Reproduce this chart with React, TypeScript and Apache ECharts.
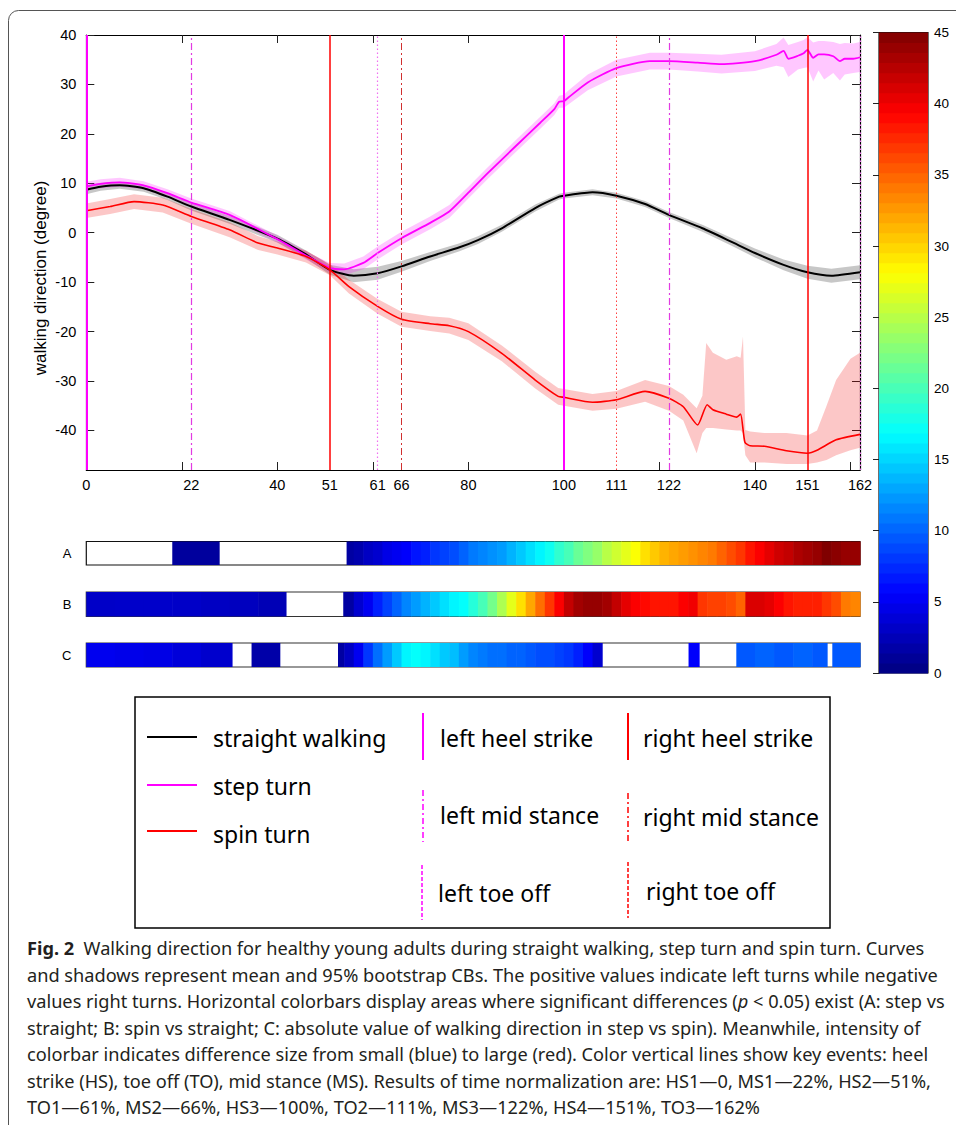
import React, { useEffect, useRef } from "react";
import * as echarts from "echarts";

// ---------- main plot data ----------
const xTickValues = [0, 20, 40, 60, 80, 100, 120, 140, 160];
const xLabelValues = [0, 22, 40, 51, 61, 66, 80, 100, 111, 122, 140, 151, 162];
const yTickValues = [-40, -30, -20, -10, 0, 10, 20, 30, 40];

const straightX = [0, 3, 7, 12, 17, 22, 30, 40, 46, 51, 56, 61, 66, 72, 78, 82, 87, 94, 99, 100, 106, 111, 117, 122, 129, 135, 140, 146, 151, 156, 162];
const straightMean = [8.7, 9.3, 9.6, 9.0, 7.3, 5.3, 2.6, -1.2, -4.4, -7.5, -8.7, -8.2, -6.8, -4.8, -3.0, -1.5, 0.9, 5.0, 7.3, 7.5, 8.2, 7.5, 5.8, 3.6, 0.9, -1.8, -4.1, -6.5, -8.0, -8.7, -8.0];
const straightLow = [7.8, 8.5, 8.9, 8.3, 6.6, 4.5, 1.8, -2.0, -5.2, -8.5, -10.0, -9.5, -7.9, -5.7, -3.8, -2.3, 0.2, 4.3, 6.7, 6.9, 7.6, 6.9, 5.2, 3.0, 0.2, -2.6, -5.0, -7.6, -9.3, -10.1, -9.4];
const straightHigh = [9.6, 10.1, 10.3, 9.7, 8.0, 6.1, 3.4, -0.4, -3.6, -6.5, -7.4, -6.9, -5.7, -3.9, -2.2, -0.7, 1.6, 5.7, 7.9, 8.1, 8.8, 8.1, 6.4, 4.2, 1.6, -1.0, -3.2, -5.4, -6.7, -7.3, -6.6];

const stepX = [0, 3, 7, 12, 17, 22, 30, 40, 46, 51, 54, 58, 61, 66, 72, 76, 80, 84, 90, 95, 98, 99, 100, 101, 105, 111, 118, 122, 128, 133, 140, 144.5, 146, 147, 149, 150.2, 151, 152.2, 153.3, 154.5, 156.4, 157.8, 158.8, 160.6, 162];
const stepMean = [9.4, 9.9, 10.2, 9.6, 8.0, 6.1, 3.6, -1.3, -4.6, -7.1, -7.4, -6.1, -4.1, -1.1, 2.0, 4.3, 8.1, 12.0, 17.6, 22.2, 25.0, 26.5, 26.6, 27.4, 30.4, 33.3, 34.7, 34.7, 34.4, 34.1, 34.7, 36.0, 36.8, 35.2, 35.8, 36.3, 37.0, 35.4, 36.1, 36.1, 35.7, 34.7, 35.2, 35.2, 35.5];
const stepLow = [8.5, 9.0, 9.3, 8.8, 7.2, 5.3, 2.8, -2.0, -5.4, -8.1, -8.6, -7.4, -5.4, -2.4, 0.7, 3.0, 6.9, 10.8, 16.4, 21.0, 23.8, 25.3, 25.3, 26.0, 28.8, 31.6, 33.0, 33.0, 32.6, 32.2, 32.7, 33.8, 33.5, 31.5, 33.0, 33.3, 33.5, 30.6, 32.8, 31.0, 32.3, 30.8, 32.0, 32.3, 32.5];
const stepHigh = [10.3, 10.8, 11.1, 10.4, 8.8, 6.9, 4.4, -0.6, -3.8, -6.1, -6.2, -4.8, -2.8, 0.2, 3.3, 5.6, 9.3, 13.2, 18.8, 23.4, 26.2, 27.7, 27.9, 28.8, 32.0, 35.0, 36.4, 36.4, 36.2, 36.0, 36.7, 38.2, 39.5, 38.0, 38.6, 39.0, 39.6, 38.5, 38.8, 38.8, 38.6, 38.2, 38.4, 38.3, 38.6];

const spinX = [0, 5, 10, 16, 22, 30, 36, 40, 46, 51, 55, 61, 66, 72, 76, 80, 87, 94, 98.8, 100, 106, 111, 117, 122, 125, 128, 130, 131.2, 134, 136.2, 137, 137.9, 139, 142, 146.6, 151, 153, 157, 162];
const spinMean = [4.45, 5.3, 6.3, 5.6, 3.3, 0.6, -2.1, -3.1, -4.8, -7.5, -10.9, -14.9, -17.5, -18.4, -18.8, -20.0, -24.4, -29.8, -33.1, -33.3, -34.3, -33.8, -32.1, -33.5, -35.2, -38.9, -34.8, -35.8, -36.7, -37.3, -36.7, -42.4, -43.1, -43.2, -44.1, -44.6, -44.0, -41.9, -40.8];
const spinBandX = [0, 5, 10, 16, 22, 30, 36, 40, 46, 51, 55, 61, 66, 72, 76, 80, 87, 94, 98.8, 100, 106, 111, 117, 122, 125, 127.8, 129, 129.8, 131.2, 134, 136.2, 137, 137.5, 138, 139, 142, 146.6, 151, 153, 155, 157, 160, 162];
const spinLow = [3.0, 3.8, 4.8, 4.1, 1.8, -0.9, -3.5, -4.4, -6.0, -8.6, -12.3, -16.4, -19.0, -19.9, -20.4, -21.7, -26.0, -31.5, -34.8, -35.0, -36.0, -35.6, -34.2, -36.0, -38.0, -44.6, -40.5, -39.5, -39.5, -39.8, -40.0, -40.0, -40.5, -45.0, -46.5, -46.5, -46.8, -46.8, -46.5, -46.0, -45.0, -44.0, -43.5];
const spinHigh = [5.9, 6.8, 7.8, 7.1, 4.8, 2.1, -0.7, -1.8, -3.6, -6.4, -9.5, -13.4, -16.0, -16.9, -17.2, -18.3, -22.8, -28.1, -31.4, -31.6, -32.6, -32.0, -29.8, -31.0, -32.8, -35.5, -33.0, -22.3, -24.3, -25.7, -25.0, -25.3, -21.0, -39.9, -40.2, -40.5, -40.5, -41.0, -40.0, -35.0, -29.8, -25.5, -24.3];

// key gait events (x position and kind)
const eventX = [0, 22, 51, 61, 66, 100, 111, 122, 151, 162];
const eventKind = ["LHS", "LMS", "RHS", "LTO", "RMS", "LHS", "RTO", "LMS", "RHS", "LTO"];

// ---------- significance colorbars (cell edges + difference size) ----------
const barAEdges = [0, 18, 27.8, 54.5, 56, 58, 60, 62, 64, 66, 68, 70, 72, 74, 76, 78, 80, 82, 84, 86, 88, 90, 92, 94, 96, 98, 100, 102, 104, 106, 108, 110, 112, 114, 116, 118, 120, 122, 124, 126, 128, 130, 132, 134, 136, 138, 140, 142, 144, 146, 148, 150, 152, 154, 156, 158, 160, 162];
const barAValues = [null, 1.3, null, 1.5, 2, 3, 3.5, 4.5, 5, 5.5, 6.5, 7, 8, 8.5, 9, 10, 11, 11.5, 12, 12.5, 13.5, 14.5, 15.5, 16.5, 17.5, 19, 20, 21.5, 22.5, 23.5, 25, 26, 27, 28, 29.5, 30.5, 31.5, 32, 32.5, 33, 33.5, 34, 35, 36, 37, 38.5, 39.5, 40.5, 41.5, 42, 43, 43.5, 44, 45, 44.5, 44, 44];

const barBEdges = [0, 6, 12, 18, 24, 30, 36, 41.8, 53.8, 56, 58, 60, 62, 64, 66, 68, 70, 72, 74, 76, 78, 80, 82, 84, 86, 88, 90, 92, 94, 96, 98, 100, 102, 104, 106, 108, 110, 112, 114, 116, 118, 120, 122, 124, 126, 128, 130, 132, 134, 136, 138, 140, 142, 144, 146, 148, 150, 152, 154, 156, 158, 160, 162];
const barBValues = [3.2, 3.3, 3.3, 3.2, 3.0, 2.8, 2.4, null, 1.5, 3.5, 5, 7, 8.5, 10, 11.5, 12.5, 13.5, 14.5, 15.5, 16.5, 17, 18.5, 20, 22, 24.5, 27, 29.5, 32, 34.5, 37, 39.5, 42, 43.5, 44, 44, 43.5, 42, 40.5, 39.5, 39, 38.5, 38.5, 38.5, 39.5, 40, 37, 36.5, 36.5, 36, 35, 41, 41, 40.5, 39.5, 38.5, 38, 38, 38, 37, 36, 34, 33.5];

const barCEdges = [0, 6, 12, 18, 24, 30.5, 34.6, 40.5, 52.7, 54, 56, 58, 60, 62, 64, 66, 68, 70, 72, 74, 76, 78, 80, 82, 84, 86, 88, 90, 92, 94, 96, 98, 100, 102, 104, 106, 108, 126.1, 128.3, 136.1, 140, 144, 148, 152, 155.1, 156.2, 162];
const barCValues = [4.9, 4.7, 4.5, 4.0, 3.4, null, 1.8, null, 1.5, 3, 5, 8, 10.5, 12.5, 14.5, 16.5, 17, 16.5, 15.5, 14.5, 14, 12.5, 11.5, 11, 10.5, 10.5, 10, 10, 9.5, 9, 9, 8.5, 8, 7, 5.5, 3.5, null, 5.5, null, 9.5, 10, 9.5, 10, 9.5, null, 9.5];

const colorbarTicks = [0, 5, 10, 15, 20, 25, 30, 35, 40, 45];

const captionLines = [
  "{b|Fig. 2}  Walking direction for healthy young adults during straight walking, step turn and spin turn. Curves",
  "and shadows represent mean and 95% bootstrap CBs. The positive values indicate left turns while negative",
  "values right turns. Horizontal colorbars display areas where significant differences ({i|p} < 0.05) exist (A: step vs",
  "straight; B: spin vs straight; C: absolute value of walking direction in step vs spin). Meanwhile, intensity of",
  "colorbar indicates difference size from small (blue) to large (red). Color vertical lines show key events: heel",
  "strike (HS), toe off (TO), mid stance (MS). Results of time normalization are: HS1—0, MS1—22%, HS2—51%,",
  "TO1—61%, MS2—66%, HS3—100%, TO2—111%, MS3—122%, HS4—151%, TO3—162%",
];

// ---------- helpers ----------
function jet(v: number): string {
  const t = Math.max(0, Math.min(1, v / 45));
  const c = (x: number) => Math.round(255 * Math.max(0, Math.min(1, x)));
  const r = c(Math.min(4 * t - 1.5, -4 * t + 4.5));
  const g = c(Math.min(4 * t - 0.5, -4 * t + 3.5));
  const b = c(Math.min(4 * t + 0.5, -4 * t + 2.5));
  return `rgb(${r},${g},${b})`;
}

const MAGENTA = "#ff00ff";
const RED = "#ff0000";
const AXIS_FONT = "Liberation Sans, Arial, sans-serif";
const LEGEND_FONT = "Noto Sans, sans-serif";
const CAPTION_FONT = "Noto Sans, sans-serif";
const CAPTION_SIZE = 18.2;

const eventStyles: Record<string, any> = {
  LHS: { color: MAGENTA, width: 2, type: "solid" },
  LMS: { color: "#e23be2", width: 1.2, type: [7, 3, 2, 3] },
  LTO: { color: "#f070f0", width: 1.2, type: [1.5, 2.5] },
  RHS: { color: RED, width: 1.5, type: "solid" },
  RMS: { color: "#d03030", width: 1, type: [7, 3, 2, 3] },
  RTO: { color: "#ff4040", width: 1, type: [1.5, 2.5] },
};

function bandSeries(xs: number[], low: number[], high: number[], fill: string) {
  return {
    type: "custom",
    xAxisIndex: 0,
    yAxisIndex: 0,
    silent: true,
    z: 1,
    data: [[xs[0], low[0]]],
    renderItem: (_p: any, api: any) => {
      const top = xs.map((x, i) => api.coord([x, high[i]]));
      const bottom = xs.map((x, i) => api.coord([x, low[i]])).reverse();
      return { type: "polygon", shape: { points: top.concat(bottom) }, style: { fill } };
    },
  };
}

function meanSeries(name: string, xs: number[], ys: number[], color: string, width: number, extra: any = {}) {
  return {
    name,
    type: "line",
    xAxisIndex: 0,
    yAxisIndex: 0,
    data: xs.map((x, i) => [x, ys[i]]),
    showSymbol: false,
    symbol: "none",
    smooth: 0.2,
    lineStyle: { color, width },
    z: 3,
    silent: true,
    ...extra,
  };
}

function barSeries(edges: number[], values: (number | null)[], axisIdx: number) {
  const data: number[][] = [];
  values.forEach((v, i) => {
    if (v !== null) data.push([edges[i], edges[i + 1], 0, v]);
  });
  return {
    type: "custom",
    xAxisIndex: axisIdx,
    yAxisIndex: axisIdx,
    silent: true,
    data,
    encode: { x: [0, 1], y: 2 },
    renderItem: (_p: any, api: any) => {
      const s = api.coord([api.value(0), 0]);
      const e = api.coord([api.value(1), 0]);
      const h = api.size([0, 1])[1];
      return {
        type: "rect",
        shape: { x: s[0], y: s[1] - h / 2, width: e[0] - s[0] + 0.6, height: h },
        style: { fill: jet(api.value(3)) },
      };
    },
  };
}

const colorbarLevels = Array.from({ length: 64 }, (_, i) => [(i * 45) / 64, ((i + 1) * 45) / 64]);

function legendText(text: string, x: number, y: number, size = 23) {
  return {
    type: "text",
    x,
    y,
    style: {
      text,
      fill: "#000",
      fontSize: size,
      fontFamily: LEGEND_FONT,
      align: "left",
      verticalAlign: "middle",
      textAlign: "left",
      textVerticalAlign: "middle",
    },
  };
}
function legendLine(x1: number, y1: number, x2: number, y2: number, stroke: string, lineWidth: number, lineDash?: number[]) {
  return {
    type: "line",
    shape: { x1, y1, x2, y2 },
    style: { stroke, lineWidth, lineDash: lineDash || null },
  };
}

export default function App() {
  const ref = useRef<HTMLDivElement>(null);

  useEffect(() => {
    if (!ref.current) return;
    const chart = echarts.init(ref.current, null, { renderer: "svg", width: 956, height: 1125 });

    const gridLeft = 86.3;
    const gridWidth = 773.7;

    const hiddenX = (gridIndex: number) => ({ gridIndex, type: "value", min: 0, max: 162, show: false });
    const barY = (gridIndex: number, label: string) => ({
      gridIndex,
      type: "category",
      data: [label],
      axisLine: { show: false },
      axisTick: { show: false },
      axisLabel: { color: "#000", fontSize: 13, fontFamily: AXIS_FONT, margin: 15 },
    });

    const captionGraphics = captionLines.map((line, i) => ({
      type: "text",
      x: 27,
      y: 948 + i * 26.5,
      style: {
        text: line,
        fill: "#231f20",
        fontSize: CAPTION_SIZE,
        fontFamily: CAPTION_FONT,
        align: "left",
        verticalAlign: "middle",
        textAlign: "left",
        textVerticalAlign: "middle",
        rich: {
          b: { fontWeight: "bold", fontSize: CAPTION_SIZE, fontFamily: CAPTION_FONT, fill: "#231f20" },
          i: { fontStyle: "italic", fontSize: CAPTION_SIZE, fontFamily: CAPTION_FONT, fill: "#231f20" },
        },
      },
    }));

    const option: any = {
      animation: false,
      backgroundColor: "#fff",
      grid: [
        { left: gridLeft, top: 35, width: gridWidth, height: 435 },
        { left: gridLeft, top: 541.5, width: gridWidth, height: 23.5, show: true, borderColor: "#111", borderWidth: 1.2 },
        { left: gridLeft, top: 592, width: gridWidth, height: 24.5, show: true, borderColor: "#333", borderWidth: 1.2 },
        { left: gridLeft, top: 643, width: gridWidth, height: 24, show: true, borderColor: "#333", borderWidth: 1.2 },
        { left: 879, top: 32.5, width: 49, height: 640.5, show: true, borderColor: "#111", borderWidth: 1.2 },
      ],
      xAxis: [
        {
          gridIndex: 0,
          type: "value",
          min: 0,
          max: 162,
          position: "bottom",
          axisLine: { show: true, onZero: false, lineStyle: { color: "#000", width: 1.2 } },
          axisTick: { show: true, inside: true, length: 8, customValues: xTickValues, lineStyle: { color: "#222" } },
          axisLabel: { customValues: xLabelValues, color: "#000", fontSize: 14.5, fontFamily: AXIS_FONT, margin: 7 },
          splitLine: { show: false },
        },
        {
          gridIndex: 0,
          type: "value",
          min: 0,
          max: 162,
          position: "top",
          axisLine: { show: true, onZero: false, lineStyle: { color: "#000", width: 1.2 } },
          axisTick: { show: true, inside: true, length: 8, customValues: xTickValues, lineStyle: { color: "#222" } },
          axisLabel: { show: false },
          splitLine: { show: false },
        },
        hiddenX(1),
        hiddenX(2),
        hiddenX(3),
        { gridIndex: 4, type: "value", min: 0, max: 1, show: false },
      ],
      yAxis: [
        {
          gridIndex: 0,
          type: "value",
          min: -48,
          max: 40,
          position: "left",
          axisLine: { show: true, onZero: false, lineStyle: { color: "#000", width: 1.2 } },
          axisTick: { show: true, inside: true, length: 8, customValues: yTickValues, lineStyle: { color: "#222" } },
          axisLabel: { customValues: yTickValues, color: "#000", fontSize: 14.5, fontFamily: AXIS_FONT, margin: 10 },
          splitLine: { show: false },
        },
        {
          gridIndex: 0,
          type: "value",
          min: -48,
          max: 40,
          position: "right",
          axisLine: { show: true, onZero: false, lineStyle: { color: "#000", width: 1.2 } },
          axisTick: { show: true, inside: true, length: 8, customValues: yTickValues, lineStyle: { color: "#222" } },
          axisLabel: { show: false },
          splitLine: { show: false },
        },
        barY(1, "A"),
        barY(2, "B"),
        barY(3, "C"),
        {
          gridIndex: 4,
          type: "value",
          min: 0,
          max: 45,
          interval: 5,
          position: "right",
          axisLine: { show: true, lineStyle: { color: "#000" } },
          axisTick: { show: true, inside: true, length: 6, customValues: colorbarTicks, lineStyle: { color: "#222" } },
          axisLabel: { customValues: colorbarTicks, color: "#000", fontSize: 13.5, fontFamily: AXIS_FONT, margin: 6 },
          splitLine: { show: false },
        },
      ],
      series: [
        bandSeries(straightX, straightLow, straightHigh, "rgba(0,0,0,0.22)"),
        bandSeries(stepX, stepLow, stepHigh, "rgba(255,0,255,0.22)"),
        bandSeries(spinBandX, spinLow, spinHigh, "rgba(240,0,0,0.22)"),
        meanSeries("straight walking", straightX, straightMean, "#000", 2),
        meanSeries("step turn", stepX, stepMean, MAGENTA, 1.8),
        meanSeries("spin turn", spinX, spinMean, RED, 1.6, {
          markLine: {
            silent: true,
            symbol: ["none", "none"],
            label: { show: false },
            emphasis: { disabled: true },
            data: eventX.map((x, i) => ({ xAxis: x, lineStyle: eventStyles[eventKind[i]] })),
          },
        }),
        // axis index 2,3,4 belong to grids 1,2,3 (bars A, B, C)
        barSeries(barAEdges, barAValues, 2),
        barSeries(barBEdges, barBValues, 3),
        barSeries(barCEdges, barCValues, 4),
        {
          type: "custom",
          xAxisIndex: 5,
          yAxisIndex: 5,
          silent: true,
          data: colorbarLevels,
          encode: { y: [0, 1] },
          renderItem: (_p: any, api: any) => {
            const lo = api.value(0);
            const hi = api.value(1);
            const a = api.coord([0, lo]);
            const b = api.coord([1, hi]);
            return {
              type: "rect",
              shape: { x: a[0], y: b[1], width: b[0] - a[0], height: a[1] - b[1] + 0.6 },
              style: { fill: jet((lo + hi) / 2) },
            };
          },
        },
      ],
      graphic: [
        {
          type: "rect",
          shape: { x: 8.5, y: 10.5, width: 1000, height: 1200, r: 10 },
          style: { fill: "none", stroke: "#555", lineWidth: 1 },
          silent: true,
        },
        {
          type: "text",
          x: 40,
          y: 278,
          rotation: Math.PI / 2,
          style: {
            text: "walking direction (degree)",
            fill: "#000",
            fontSize: 17,
            fontFamily: AXIS_FONT,
            align: "center",
            verticalAlign: "middle",
            textAlign: "center",
            textVerticalAlign: "middle",
          },
        },
        // legend box
        {
          type: "rect",
          shape: { x: 135, y: 697, width: 695, height: 231 },
          style: { fill: "none", stroke: "#000", lineWidth: 1.5 },
        },
        legendLine(147, 737, 197, 737, "#000", 2),
        legendLine(147, 785, 197, 785, MAGENTA, 2),
        legendLine(147, 831, 197, 831, RED, 2),
        legendText("straight walking", 213, 738),
        legendText("step turn", 213, 786),
        legendText("spin turn", 213, 834),
        legendLine(423, 713, 423, 760, MAGENTA, 2),
        legendLine(423, 790, 423, 842, MAGENTA, 1.5, [6, 3, 2, 3]),
        legendLine(422, 865, 422, 920, MAGENTA, 1.5, [4, 2]),
        legendText("left heel strike", 440, 738),
        legendText("left mid stance", 440, 815),
        legendText("left toe off", 438, 893),
        legendLine(628, 713, 628, 760, RED, 2),
        legendLine(628, 793, 628, 843, RED, 1.5, [6, 3, 2, 3]),
        legendLine(628, 862, 628, 918, RED, 1.5, [4, 2]),
        legendText("right heel strike", 643, 738),
        legendText("right mid stance", 643, 817),
        legendText("right toe off", 646, 891),
        ...captionGraphics,
      ],
    };

    chart.setOption(option);
    return () => chart.dispose();
  }, []);

  return <div ref={ref} style={{ position: "absolute", left: 0, top: 0, width: 956, height: 1125 }} />;
}
